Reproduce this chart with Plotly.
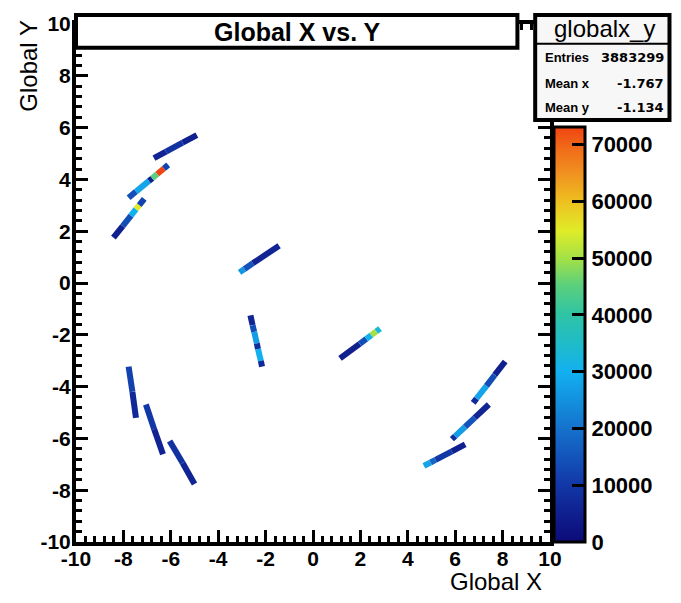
import plotly.graph_objects as go
from plotly.colors import sample_colorscale

# ---- hit strips: vertices along each strip (global X/Y) and bin counts per piece ----
strip_a_x = [-6.71, -6.20, -5.50, -4.90]
strip_a_y = [4.82, 5.07, 5.42, 5.71]
strip_a_n = [6000, 9000, 5000]

strip_b_x = [-7.78, -7.47, -6.92, -6.78, -6.57, -6.29, -6.11]
strip_b_y = [3.29, 3.53, 3.94, 4.04, 4.21, 4.42, 4.56]
strip_b_n = [14000, 28000, 5000, 45000, 73000, 12000]

strip_c_x = [-8.42, -8.03, -7.68, -7.47, -7.33, -7.12]
strip_c_y = [1.75, 2.20, 2.60, 2.85, 3.01, 3.25]
strip_c_n = [5000, 14000, 30000, 55000, 12000]

strip_d_x = [-3.10, -2.89, -2.54, -1.43]
strip_d_y = [0.41, 0.54, 0.76, 1.44]
strip_d_n = [26000, 15000, 6000]

strip_e_x = [-2.64, -2.55, -2.48, -2.37, -2.32, -2.20, -2.15]
strip_e_y = [-1.25, -1.63, -1.89, -2.33, -2.55, -3.01, -3.23]
strip_e_n = [6000, 14000, 27000, 8000, 30000, 7000]

strip_f_x = [1.14, 1.97, 2.25, 2.46, 2.67, 2.83]
strip_f_y = [-2.91, -2.35, -2.155, -2.01, -1.87, -1.76]
strip_f_n = [5000, 14000, 30000, 50000, 33000]

strip_g_x = [-7.78, -7.62, -7.47]
strip_g_y = [-3.23, -4.20, -5.21]
strip_g_n = [12000, 7000]

strip_h_x = [-7.05, -6.70, -6.33]
strip_h_y = [-4.69, -5.65, -6.61]
strip_h_n = [10000, 6000]

strip_i_x = [-6.05, -5.50, -5.00]
strip_i_y = [-6.10, -6.95, -7.76]
strip_i_n = [9000, 6000]

strip_j_x = [4.68, 4.96, 5.17, 5.86, 6.42]
strip_j_y = [-7.06, -6.93, -6.83, -6.50, -6.23]
strip_j_n = [28000, 18000, 10000, 5000]

strip_k_x = [5.86, 6.00, 6.42, 6.83, 7.42]
strip_k_y = [-6.03, -5.91, -5.55, -5.20, -4.69]
strip_k_n = [8000, 27000, 15000, 6000]

strip_l_x = [6.76, 6.90, 7.32, 7.67, 8.11]
strip_l_y = [-4.63, -4.46, -3.97, -3.55, -3.03]
strip_l_n = [7000, 28000, 14000, 5000]

strips = [
    (strip_a_x, strip_a_y, strip_a_n), (strip_b_x, strip_b_y, strip_b_n),
    (strip_c_x, strip_c_y, strip_c_n), (strip_d_x, strip_d_y, strip_d_n),
    (strip_e_x, strip_e_y, strip_e_n), (strip_f_x, strip_f_y, strip_f_n),
    (strip_g_x, strip_g_y, strip_g_n), (strip_h_x, strip_h_y, strip_h_n),
    (strip_i_x, strip_i_y, strip_i_n), (strip_j_x, strip_j_y, strip_j_n),
    (strip_k_x, strip_k_y, strip_k_n), (strip_l_x, strip_l_y, strip_l_n),
]

z_max = 73100
z_ticks = [0, 10000, 20000, 30000, 40000, 50000, 60000, 70000]
axis_ticks = [-10, -8, -6, -4, -2, 0, 2, 4, 6, 8, 10]

stats_labels = ["Entries", "Mean x", "Mean y"]
stats_values = ["3883299", "-1.767", "-1.134"]

rainbow = [
    [0.00, "#0b0b78"], [0.07, "#10208f"], [0.14, "#1238a8"], [0.27, "#1570cc"],
    [0.41, "#12b0f0"], [0.48, "#20bcc8"], [0.55, "#30c4a4"], [0.62, "#5cd07c"],
    [0.68, "#a0e048"], [0.75, "#e0ec28"], [0.82, "#eec020"], [0.89, "#f09020"],
    [0.95, "#f06a18"], [1.00, "#f04412"],
]

W, H = 681, 603
ML, MR, MT, MB = 76, 125, 18, 61
PW, PH = W - ML - MR, H - MT - MB


def px(xp):
    return (xp - ML) / PW


def py(yp):
    return (H - MB - yp) / PH


fig = go.Figure()

for xs, ys, ns in strips:
    cols = sample_colorscale(rainbow, [n / z_max for n in ns])
    for i, c in enumerate(cols):
        fig.add_trace(go.Scatter(
            x=[xs[i], xs[i + 1]], y=[ys[i], ys[i + 1]], mode="lines",
            line=dict(color=c, width=6), hoverinfo="skip", showlegend=False))

# palette axis
fig.add_trace(go.Scatter(
    x=[-50], y=[-50], mode="markers", showlegend=False, hoverinfo="skip",
    marker=dict(
        color=[0], cmin=0, cmax=z_max, colorscale=rainbow, showscale=True,
        colorbar=dict(
            thickness=31, thicknessmode="pixels", len=(542 - 122) / PH, lenmode="fraction",
            x=px(560), xanchor="left", xpad=0, y=0, yanchor="bottom", ypad=0,
            outlinewidth=3, outlinecolor="black",
            ticks="inside", ticklen=14, tickwidth=3, tickcolor="black",
            tickvals=z_ticks, ticktext=[str(v) for v in z_ticks],
            tickfont=dict(family="Liberation Sans", size=22, color="black", weight="bold"),
        ),
    ),
))

axis_common = dict(
    range=[-10, 10], showgrid=False, zeroline=False, showline=True, linewidth=4,
    linecolor="black", mirror="ticks", ticks="inside", ticklen=12, tickwidth=3,
    tickcolor="black", tickvals=axis_ticks, ticktext=[str(v) for v in axis_ticks],
    minor=dict(dtick=0.4, tick0=-10, ticks="inside", ticklen=6, tickwidth=3, tickcolor="black"),
    tickfont=dict(family="Liberation Sans", size=21, color="black", weight="bold"),
    fixedrange=True,
)


def note(text, x, y, size, xanchor="center", yanchor="middle", weight="normal",
         family="Liberation Sans", angle=0):
    return dict(text=text, xref="paper", yref="paper", x=px(x), y=py(y),
                xanchor=xanchor, yanchor=yanchor, textangle=angle, showarrow=False,
                font=dict(family=family, size=size, color="black", weight=weight))


fig.update_layout(
    width=W, height=H, margin=dict(l=ML, r=MR, t=MT, b=MB),
    paper_bgcolor="white", plot_bgcolor="white",
    xaxis=dict(axis_common, ticklabelstandoff=-5),
    yaxis=dict(axis_common, ticklabelstandoff=-3),
    shapes=[
        # title box
        dict(type="rect", xref="paper", yref="paper", x0=px(76), x1=px(523), y0=py(42), y1=py(9),
             line=dict(color="black", width=4), fillcolor="white", layer="above"),
        # stats box
        dict(type="rect", xref="paper", yref="paper", x0=px(541), x1=px(677), y0=py(115), y1=py(9),
             line=dict(color="black", width=4), fillcolor="#f7f7f7", layer="above"),
        dict(type="line", xref="paper", yref="paper", x0=px(541), x1=px(677), y0=py(38), y1=py(38),
             line=dict(color="black", width=2), layer="above"),
    ],
    annotations=[
        note("Global X vs. Y", 300, 26, 25, weight="bold"),
        note("globalx_y", 611, 23, 24),
        note("Global X", 550, 582, 24, xanchor="right"),
        note("Global Y", 27, 12, 24, yanchor="top", angle=-90),
    ] + [
        note(lab, 549, yy, 13, xanchor="left", weight="bold")
        for lab, yy in zip(stats_labels, [52, 78, 102])
    ] + [
        note(val, 673, yy, 13, xanchor="right", weight="bold", family="DejaVu Sans")
        for val, yy in zip(stats_values, [52, 78, 102])
    ],
)

fig.write_html("out.html")
